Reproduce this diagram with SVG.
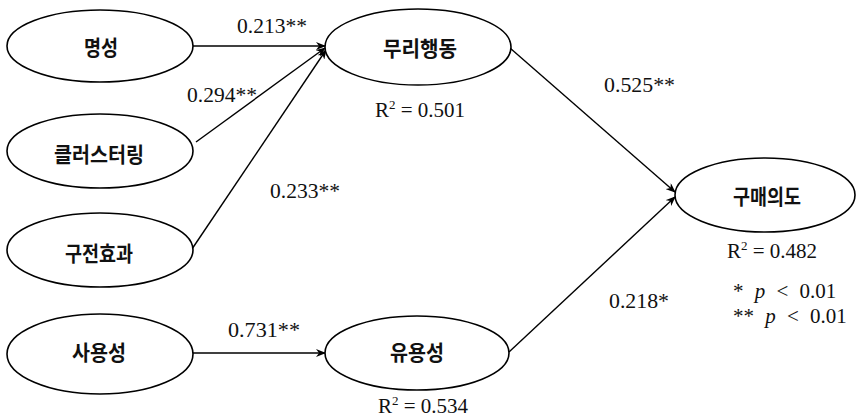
<svg xmlns="http://www.w3.org/2000/svg" width="856" height="418" viewBox="0 0 856 418">
<defs>
<style>
.node ellipse{fill:#fff;stroke:#000;stroke-width:1.6}
.node text{font-family:"Noto Sans CJK KR","Noto Sans",sans-serif;font-weight:bold;font-size:21px;text-anchor:middle;dominant-baseline:central;fill:#111}
.lbl{font-family:"Liberation Serif","Times New Roman",serif;font-size:21px;fill:#111}
.r2{font-family:"Liberation Serif","Times New Roman",serif;font-size:21px;fill:#111}
.sig{font-family:"Liberation Serif","Times New Roman",serif;font-size:21px;fill:#111;word-spacing:6px}
.conn line{stroke:#000;stroke-width:1.4;marker-end:url(#ah)}
</style>
<marker id="ah" markerWidth="10" markerHeight="8" refX="9" refY="4" orient="auto" markerUnits="userSpaceOnUse">
<path d="M0,0 L10,4 L0,8 L3,4 Z" fill="#000"/>
</marker>
</defs>
<g id="connectors" class="conn">
<line x1="193" y1="46" x2="325" y2="46"/>
<line x1="196" y1="142" x2="325" y2="48"/>
<line x1="192" y1="249" x2="326" y2="50"/>
<line x1="192" y1="353" x2="325" y2="353"/>
<line x1="510" y1="48" x2="675" y2="192"/>
<line x1="509" y1="352" x2="675" y2="197"/>
</g>
<g id="n1" class="node"><ellipse cx="100" cy="46" rx="93" ry="36"/><text x="101" y="46" textLength="34" lengthAdjust="spacingAndGlyphs">명성</text></g>
<g id="n2" class="node"><ellipse cx="100" cy="151" rx="93" ry="37"/><text x="99" y="153" textLength="90" lengthAdjust="spacingAndGlyphs">클러스터링</text></g>
<g id="n3" class="node"><ellipse cx="100" cy="250" rx="93" ry="37"/><text x="99" y="252" textLength="68" lengthAdjust="spacingAndGlyphs">구전효과</text></g>
<g id="n4" class="node"><ellipse cx="100" cy="354" rx="93" ry="40"/><text x="99" y="351" textLength="54" lengthAdjust="spacingAndGlyphs">사용성</text></g>
<g id="n5" class="node"><ellipse cx="418" cy="47" rx="93" ry="38"/><text x="420" y="47" textLength="74" lengthAdjust="spacingAndGlyphs">무리행동</text></g>
<g id="n6" class="node"><ellipse cx="417" cy="353" rx="92" ry="37"/><text x="417" y="351" textLength="54" lengthAdjust="spacingAndGlyphs">유용성</text></g>
<g id="n7" class="node"><ellipse cx="765" cy="195" rx="90" ry="37"/><text x="767" y="195" textLength="68" lengthAdjust="spacingAndGlyphs">구매의도</text></g>
<g id="labels">
<text class="lbl" x="237" y="33" textLength="70" lengthAdjust="spacingAndGlyphs">0.213**</text>
<text class="lbl" x="187" y="102" textLength="70" lengthAdjust="spacingAndGlyphs">0.294**</text>
<text class="lbl" x="270" y="198" textLength="70" lengthAdjust="spacingAndGlyphs">0.233**</text>
<text class="lbl" x="228" y="337" textLength="72" lengthAdjust="spacingAndGlyphs">0.731**</text>
<text class="lbl" x="604" y="92" textLength="71" lengthAdjust="spacingAndGlyphs">0.525**</text>
<text class="lbl" x="609" y="308" textLength="60" lengthAdjust="spacingAndGlyphs">0.218*</text>
<text class="r2" x="375" y="117">R<tspan font-size="13" dy="-8">2</tspan><tspan dy="8"> = 0.501</tspan></text>
<text class="r2" x="378" y="413">R<tspan font-size="13" dy="-8">2</tspan><tspan dy="8"> = 0.534</tspan></text>
<text class="r2" x="727" y="258">R<tspan font-size="13" dy="-8">2</tspan><tspan dy="8"> = 0.482</tspan></text>
<text class="sig" x="733" y="298">* <tspan font-style="italic">p</tspan> &lt; 0.01</text>
<text class="sig" x="733" y="323">** <tspan font-style="italic">p</tspan> &lt; 0.01</text>
</g>
</svg>
